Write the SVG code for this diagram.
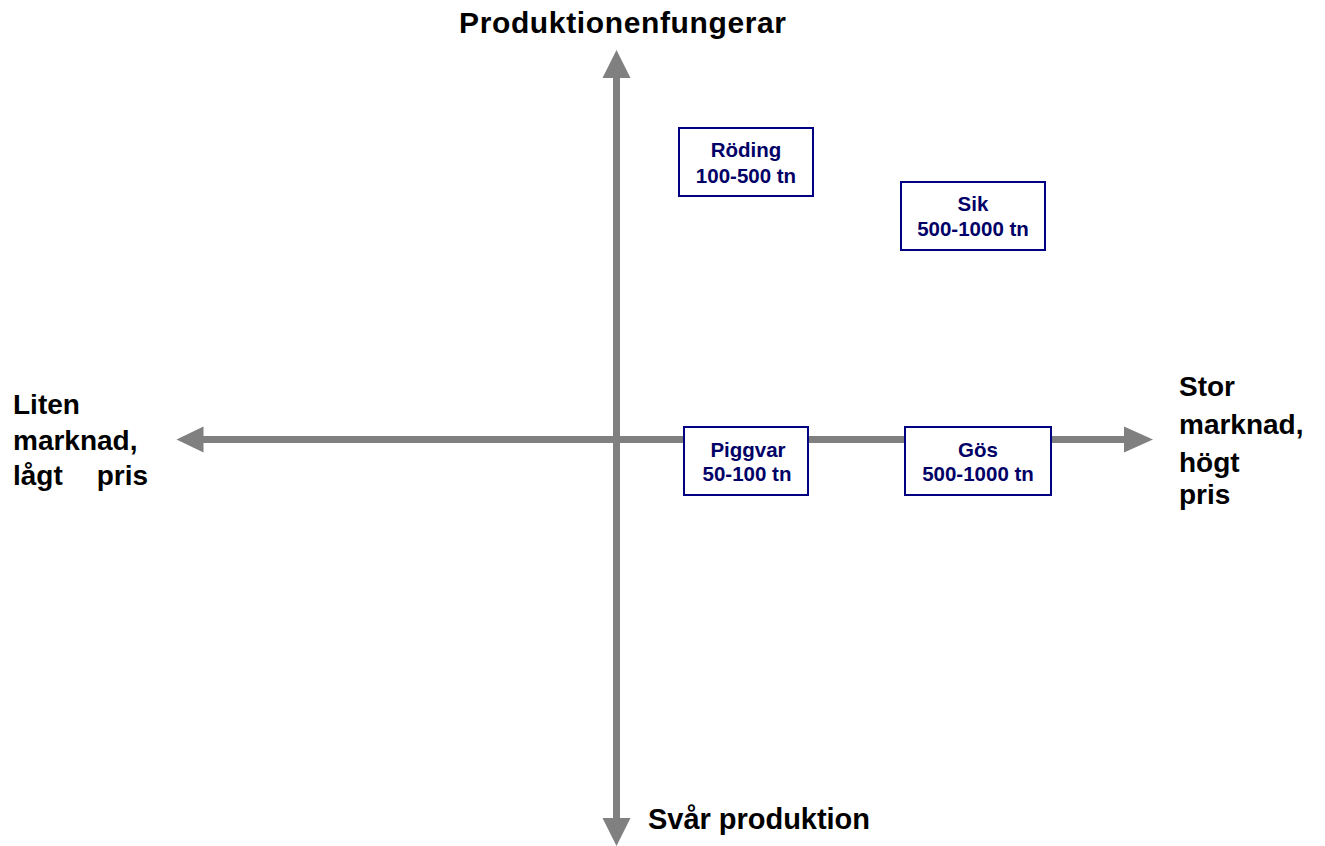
<svg xmlns="http://www.w3.org/2000/svg" width="1325" height="846" viewBox="0 0 1325 846">
<style>
.axis{stroke:#808080;stroke-width:7;fill:none}
.head{fill:#808080}
.box{fill:#ffffff;stroke:#000080;stroke-width:2}
.bt{font-family:"Liberation Sans",Arial,sans-serif;font-weight:bold;font-size:20.5px;fill:#000066;text-anchor:middle}
.lab{font-family:"Liberation Sans",Arial,sans-serif;font-weight:bold;font-size:28px;fill:#000000}
</style>
<rect width="1325" height="846" fill="#ffffff"/>
<g id="connectors">
<line class="axis" x1="616.5" y1="76" x2="616.5" y2="820"/>
<polygon class="head" points="616.5,50 602.5,78 630.5,78"/>
<polygon class="head" points="616.5,846 602.5,818 630.5,818"/>
<line class="axis" x1="201" y1="439.5" x2="1126" y2="439.5"/>
<polygon class="head" points="176.5,439.5 203.5,426.5 203.5,452.5"/>
<polygon class="head" points="1153,439.5 1124,426.5 1124,452.5"/>
</g>
<g id="label-top"><text class="lab" x="459" y="33" textLength="327" lengthAdjust="spacing" style="font-size:30px">Produktionenfungerar</text></g>
<g id="label-bottom"><text class="lab" x="648" y="829" textLength="222" lengthAdjust="spacing" style="font-size:29px">Svår produktion</text></g>
<g id="label-left">
<text class="lab" x="13" y="414">Liten</text>
<text class="lab" x="13" y="450">marknad,</text>
<text class="lab" x="13" y="485">lågt</text>
<text class="lab" x="148" y="485" text-anchor="end">pris</text>
</g>
<g id="label-right">
<text class="lab" x="1179" y="396">Stor</text>
<text class="lab" x="1179" y="434">marknad,</text>
<text class="lab" x="1179" y="472">högt</text>
<text class="lab" x="1179" y="504">pris</text>
</g>
<g id="node-roding">
<rect class="box" x="679" y="128" width="134" height="68"/>
<text class="bt" x="746" y="157">Röding</text>
<text class="bt" x="746" y="183">100-500 tn</text>
</g>
<g id="node-sik">
<rect class="box" x="901" y="182" width="144" height="68"/>
<text class="bt" x="973" y="211">Sik</text>
<text class="bt" x="973" y="236">500-1000 tn</text>
</g>
<g id="node-piggvar">
<rect class="box" x="684" y="427" width="124" height="68"/>
<text class="bt" x="748" y="457">Piggvar</text>
<text class="bt" x="747" y="481">50-100 tn</text>
</g>
<g id="node-gos">
<rect class="box" x="905" y="427" width="146" height="68"/>
<text class="bt" x="978" y="457">Gös</text>
<text class="bt" x="978" y="481">500-1000 tn</text>
</g>
</svg>
